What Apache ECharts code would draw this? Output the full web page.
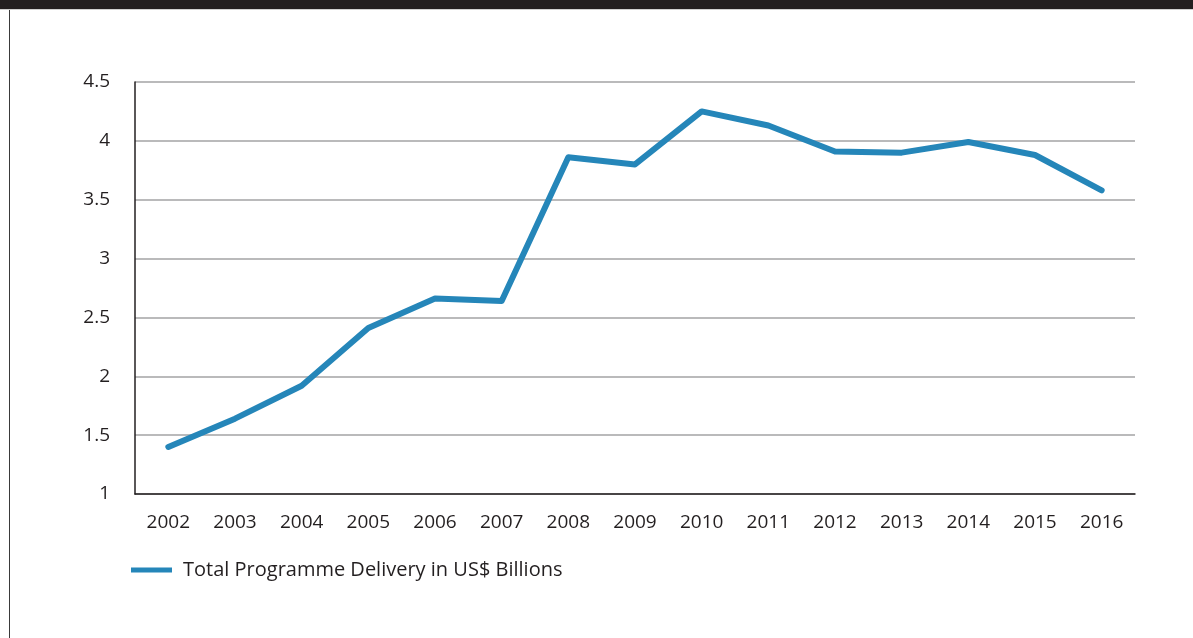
<!DOCTYPE html>
<html>
<head>
<meta charset="utf-8">
<script src="https://cdn.jsdelivr.net/npm/echarts@6/dist/echarts.min.js"></script>
<style>
  html, body { margin: 0; padding: 0; background: #ffffff; }
  #frame { position: relative; width: 1193px; height: 638px; overflow: hidden; background: #ffffff; }
  #band { position: absolute; left: 0; top: 0; width: 1193px; height: 9px; background: #231f20; border-bottom: 1px solid #d0d0d0; }
  #edge { position: absolute; left: 9px; top: 10px; width: 1px; height: 628px; background: #3a3a3a; }
  #chart { position: absolute; left: 0; top: 0; width: 1193px; height: 638px; }
</style>
</head>
<body>
<div id="frame">
  <div id="chart"></div>
  <div id="band"></div>
  <div id="edge"></div>
</div>
<script>
// Annual programme delivery, US$ billions
const years = ['2002', '2003', '2004', '2005', '2006', '2007', '2008', '2009',
               '2010', '2011', '2012', '2013', '2014', '2015', '2016'];
const delivery = [1.40, 1.64, 1.92, 2.41, 2.66, 2.64, 3.86, 3.80,
                  4.25, 4.13, 3.91, 3.90, 3.99, 3.88, 3.58];
const seriesName = 'Total Programme Delivery in US$ Billions';
const yTicks = { min: 1, max: 4.5, step: 0.5 };

const FONT = '"Open Sans", sans-serif';
const INK = '#231f20';
const BLUE = '#2586b9';

const chart = echarts.init(document.getElementById('chart'), null, { renderer: 'canvas' });
chart.setOption({
  animation: false,
  backgroundColor: 'transparent',
  grid: { left: 135, right: 58, top: 82, bottom: 144, containLabel: false },
  legend: {
    left: 131, top: 560, padding: 0,
    itemWidth: 41, itemHeight: 5, itemGap: 10,
    icon: 'rect',
    data: [{ name: seriesName, icon: 'rect' }],
    textStyle: { fontFamily: FONT, fontSize: 20, color: INK, padding: [0, 0, 0, 6] }
  },
  xAxis: {
    type: 'category',
    data: years,
    boundaryGap: true,
    axisLine: { show: true, lineStyle: { color: INK, width: 1.5 } },
    axisTick: { show: false },
    axisLabel: { margin: 19, fontFamily: FONT, fontSize: 19, color: INK }
  },
  yAxis: {
    type: 'value',
    min: yTicks.min, max: yTicks.max, interval: yTicks.step,
    axisLine: { show: true, lineStyle: { color: INK, width: 1.5 } },
    axisTick: { show: false },
    splitLine: { show: true, lineStyle: { color: '#a3a3a5', width: 1.5 } },
    axisLabel: { margin: 25, fontFamily: FONT, fontSize: 19, color: INK }
  },
  series: [{
    name: seriesName,
    type: 'line',
    data: delivery,
    symbol: 'none',
    lineStyle: { color: BLUE, width: 6, cap: 'round', join: 'round' },
    itemStyle: { color: BLUE }
  }]
});
</script>
</body>
</html>
